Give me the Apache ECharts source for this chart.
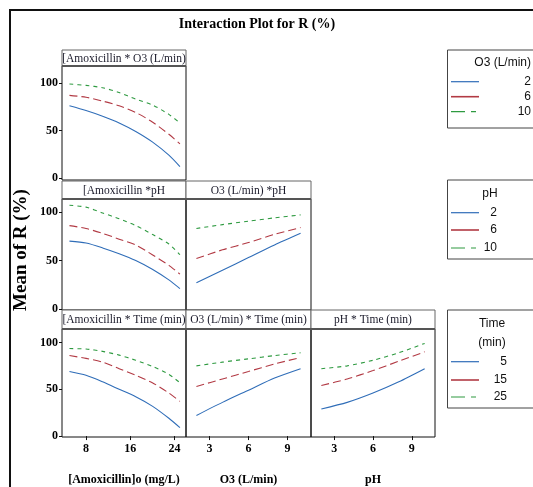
<!DOCTYPE html>
<html>
<head>
<meta charset="utf-8">
<script src="https://cdn.jsdelivr.net/npm/echarts@6/dist/echarts.min.js"></script>
<style>
  html, body { margin: 0; padding: 0; background: #fff; }
  #chart { width: 533px; height: 487px; }
</style>
</head>
<body>
<div id="chart"></div>
<script>
// Factor levels on each x axis
const amoxLevels = [5, 8, 11, 14, 17, 20, 23, 25];
const o3Levels = [2, 4, 6, 8, 10];
const phLevels = [2, 4, 6, 8, 10];

// Tick labels
const amoxTicks = [8, 16, 24];
const o3Ticks = [3, 6, 9];
const phTicks = [3, 6, 9];
const yTicks = [0, 50, 100];

// Legend levels
const o3Legend = ['2', '6', '10'];
const phLegend = ['2', '6', '10'];
const timeLegend = ['5', '15', '25'];

// Mean of R (%) — [Amoxicillin] x O3 (O3 = 2, 6, 10)
const amoxByO3_2 = [76, 71, 65, 58, 49, 38, 24, 12];
const amoxByO3_6 = [87, 85, 81, 76, 69, 59, 46, 36];
const amoxByO3_10 = [99, 97.5, 95, 90, 83, 77, 67, 58];

// [Amoxicillin] x pH (pH = 2, 6, 10)
const amoxByPh_2 = [70, 68, 63, 57, 50, 41, 30, 21];
const amoxByPh_6 = [86, 83, 78, 72, 66, 56, 45, 36];
const amoxByPh_10 = [107, 105, 99, 93, 86, 77, 67, 56];

// O3 x pH (pH = 2, 6, 10)
const o3ByPh_2 = [27, 40, 53, 66, 78];
const o3ByPh_6 = [52, 61, 68.5, 77, 84];
const o3ByPh_10 = [83, 87, 90.5, 94, 97];

// [Amoxicillin] x Time (Time = 5, 15, 25)
const amoxByTime_5 = [69, 65, 58, 50, 42, 32, 19, 9];
const amoxByTime_15 = [86, 83, 79, 72, 65, 57, 46, 37];
const amoxByTime_25 = [93.5, 93, 90.5, 86.5, 81, 74.5, 66, 57];

// O3 x Time
const o3ByTime_5 = [22, 36, 49, 62, 72];
const o3ByTime_15 = [53, 61, 69, 77, 84];
const o3ByTime_25 = [75, 79, 82.5, 86, 89];

// pH x Time
const phByTime_5 = [29, 36, 46, 58, 72];
const phByTime_15 = [54, 61, 70, 80, 90];
const phByTime_25 = [72, 75, 81, 89, 99];

const BLUE = '#2f6db8';
const RED = '#b23a44';
const GREEN = '#2e9a40';
const SERIF = '"Liberation Serif", "Times New Roman", serif';
const NARROW = '"Liberation Sans Narrow", "Liberation Sans", Arial, sans-serif';

const styles = [
  { color: BLUE, type: 'solid' },
  { color: RED, type: [8, 4] },
  { color: GREEN, type: [4, 4] }
];

// Panel boxes (plot area) and header strips
const panels = [
  { left: 62, top: 66, width: 124, height: 114, x: 'amox', yMin: -2.1, yMax: 117.9, yLabels: true, xLabels: false,
    title: '[Amoxicillin * O3 (L/min)', hTop: 50, xs: amoxLevels, ys: [amoxByO3_2, amoxByO3_6, amoxByO3_10] },
  { left: 62, top: 199, width: 124, height: 111, x: 'amox', yMin: -1, yMax: 113.4, yLabels: true, xLabels: false,
    title: '[Amoxicillin *pH', hTop: 181, xs: amoxLevels, ys: [amoxByPh_2, amoxByPh_6, amoxByPh_10] },
  { left: 186, top: 199, width: 125, height: 111, x: 'o3', yMin: -1, yMax: 113.4, yLabels: false, xLabels: false,
    title: 'O3 (L/min) *pH', hTop: 181, xs: o3Levels, ys: [o3ByPh_2, o3ByPh_6, o3ByPh_10] },
  { left: 62, top: 329, width: 124, height: 112, x: 'amox', yMin: -1, yMax: 114.4, yLabels: true, xLabels: true,
    title: '[Amoxicillin * Time (min)', hTop: 310, xs: amoxLevels, ys: [amoxByTime_5, amoxByTime_15, amoxByTime_25],
    xName: '[Amoxicillin]o (mg/L)' },
  { left: 186, top: 329, width: 125, height: 112, x: 'o3', yMin: -1, yMax: 114.4, yLabels: false, xLabels: true,
    title: 'O3 (L/min) * Time (min)', hTop: 310, xs: o3Levels, ys: [o3ByTime_5, o3ByTime_15, o3ByTime_25],
    xName: 'O3 (L/min)' },
  { left: 311, top: 329, width: 124, height: 112, x: 'ph', yMin: -1, yMax: 114.4, yLabels: false, xLabels: true,
    title: 'pH * Time (min)', hTop: 310, xs: phLevels, ys: [phByTime_5, phByTime_15, phByTime_25],
    xName: 'pH' }
];

const xRange = {
  amox: { min: 3.65, max: 26.1, ticks: amoxTicks },
  o3: { min: 1.2, max: 10.8, ticks: o3Ticks },
  ph: { min: 1.2, max: 10.8, ticks: phTicks }
};

const grid = [], xAxis = [], yAxis = [], series = [], graphic = [];

// Outer frame
graphic.push({ type: 'rect', shape: { x: 10, y: 10, width: 600, height: 600 },
  style: { fill: 'none', stroke: '#111', lineWidth: 2 }, z: 1 });

// Main title
graphic.push({ type: 'text', x: 257, y: 24, z: 10,
  style: { text: 'Interaction Plot for R (%)', font: 'bold 14px ' + SERIF, fill: '#000',
    textAlign: 'center', textVerticalAlign: 'middle' } });

// Y name
graphic.push({ type: 'text', x: 21, y: 250, rotation: Math.PI / 2, z: 10,
  style: { text: 'Mean of R (%)', font: 'bold 19px ' + SERIF, fill: '#000',
    textAlign: 'center', textVerticalAlign: 'middle' } });

panels.forEach((p, i) => {
  const xr = xRange[p.x];
  grid.push({ left: p.left, top: p.top, width: p.width, height: p.height,
    show: true, borderColor: '#111', borderWidth: 1, backgroundColor: 'transparent' });
  xAxis.push({
    gridIndex: i, type: 'value', min: xr.min, max: xr.max,
    axisLine: { show: false },
    splitLine: { show: false },
    axisTick: { show: p.xLabels, length: 4, lineStyle: { color: '#111' }, customValues: xr.ticks },
    axisLabel: { show: p.xLabels, customValues: xr.ticks, margin: 6, color: '#000',
      fontFamily: SERIF, fontWeight: 'bold', fontSize: 12 },
    name: p.xName || '', nameLocation: 'middle', nameGap: 37,
    nameTextStyle: { fontFamily: SERIF, fontWeight: 'bold', fontSize: 12, color: '#000' }
  });
  yAxis.push({
    gridIndex: i, type: 'value', min: p.yMin, max: p.yMax,
    axisLine: { show: false },
    splitLine: { show: false },
    axisTick: { show: p.yLabels, length: 3, lineStyle: { color: '#111' }, customValues: yTicks },
    axisLabel: { show: p.yLabels, customValues: yTicks, margin: 4, color: '#000',
      fontFamily: SERIF, fontWeight: 'bold', fontSize: 12 }
  });
  p.ys.forEach((vals, k) => {
    series.push({
      type: 'line', xAxisIndex: i, yAxisIndex: i,
      data: p.xs.map((x, j) => [x, vals[j]]),
      smooth: 0.25, showSymbol: false, silent: true,
      lineStyle: { width: 1.1, color: styles[k].color, type: styles[k].type },
      z: 3
    });
  });
  // Header strip
  const hh = p.top - p.hTop;
  graphic.push({ type: 'rect', shape: { x: p.left, y: p.hTop, width: p.width, height: hh },
    style: { fill: '#fff', stroke: '#666', lineWidth: 1 }, z: 5 });
  graphic.push({ type: 'line', shape: { x1: p.left, y1: p.top, x2: p.left + p.width, y2: p.top },
    style: { stroke: '#555', lineWidth: 2 }, z: 6 });
  graphic.push({ type: 'text', x: p.left + p.width / 2, y: p.hTop + hh / 2 + 0.5, z: 7,
    style: { text: p.title, font: '11.5px ' + SERIF, fill: '#1a1a2a',
      textAlign: 'center', textVerticalAlign: 'middle' } });
});

// Legend boxes
function legendBox(top, bottom, titleLines, titleX, titleAlign, labels, rows, labelX) {
  graphic.push({ type: 'rect', shape: { x: 447.5, y: top, width: 100, height: bottom - top },
    style: { fill: '#fff', stroke: '#444', lineWidth: 1 }, z: 5 });
  titleLines.forEach(t => {
    graphic.push({ type: 'text', x: titleX, y: t.y, z: 6,
      style: { text: t.text, font: '12px ' + NARROW, fill: '#111',
        textAlign: titleAlign, textVerticalAlign: 'middle' } });
  });
  const legendDash = [[], [], [14, 6, 5, 40]];
  labels.forEach((lab, k) => {
    const y = rows[k];
    graphic.push({ type: 'line', shape: { x1: 451, y1: y, x2: 479, y2: y }, z: 6,
      style: { stroke: styles[k].color, lineWidth: k === 1 ? 1.6 : 1.2, lineDash: legendDash[k] } });
    graphic.push({ type: 'text', x: labelX, y: y, z: 6,
      style: { text: lab, font: '12px ' + NARROW, fill: '#111',
        textAlign: 'right', textVerticalAlign: 'middle' } });
  });
}
legendBox(50, 128, [{ text: 'O3 (L/min)', y: 63 }], 531, 'right', o3Legend, [81.7, 96.7, 111.7], 531);
legendBox(180, 259, [{ text: 'pH', y: 194 }], 490, 'center', phLegend, [212.7, 230, 248], 497);
legendBox(310, 408, [{ text: 'Time', y: 324 }, { text: '(min)', y: 343 }], 492, 'center', timeLegend, [361.7, 380, 397], 507);

const chart = echarts.init(document.getElementById('chart'), null, { renderer: 'canvas' });
chart.setOption({
  animation: false,
  backgroundColor: '#fff',
  grid, xAxis, yAxis, series, graphic
});
</script>
</body>
</html>
